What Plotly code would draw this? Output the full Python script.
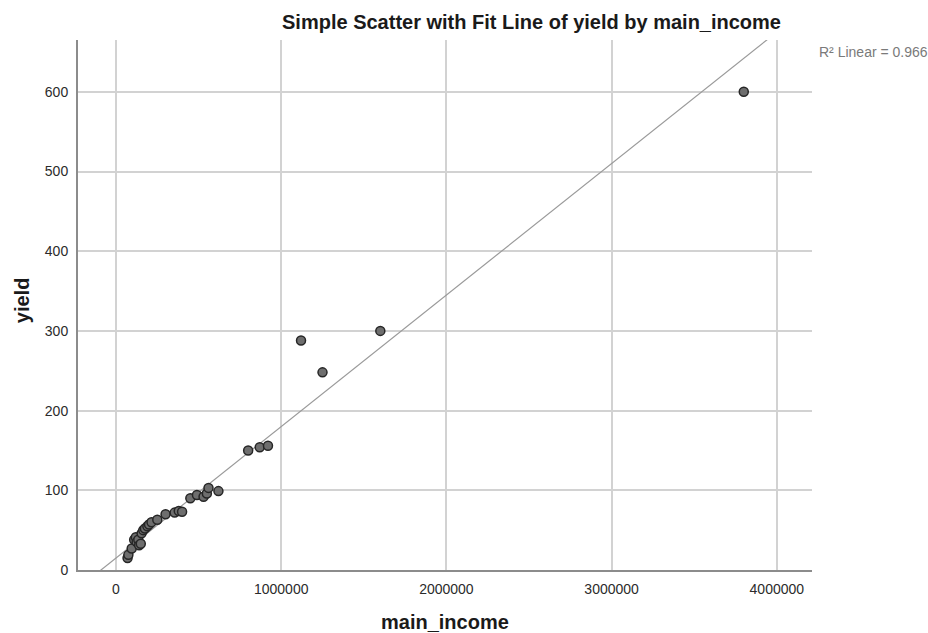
import plotly.graph_objects as go

# Data
main_income = [70000, 75000, 95000, 110000, 120000, 125000, 135000, 140000, 150000,
               155000, 165000, 175000, 190000, 200000, 215000, 250000, 300000,
               355000, 380000, 400000, 450000, 490000, 530000, 550000, 560000,
               620000, 800000, 870000, 920000, 1120000, 1250000, 1600000, 3800000]
yield_vals = [15, 19, 27, 38, 41, 35, 38, 31, 33,
              46, 50, 52, 55, 57, 60, 63, 70,
              72, 74, 73, 90, 94, 92, 96, 103,
              99, 150, 154, 156, 288, 248, 300, 600]

# Linear fit line (yield = intercept + slope * income)
fit_slope = 0.000165
fit_intercept = 15.0

x_ticks = [0, 1000000, 2000000, 3000000, 4000000]
y_ticks = [0, 100, 200, 300, 400, 500, 600]
x_range = [-230000, 4213000]
y_range = [0, 665]

title_text = "Simple Scatter with Fit Line of yield by main_income"
r2_text = "R² Linear = 0.966"

fit_x = list(x_range)
fit_y = [fit_intercept + fit_slope * v for v in fit_x]

FONT = "Liberation Sans, Arial, sans-serif"

fig = go.Figure()
fig.add_trace(go.Scatter(x=fit_x, y=fit_y, mode="lines",
                         line=dict(color="#9a9a9a", width=1.2),
                         hoverinfo="skip", showlegend=False))
fig.add_trace(go.Scatter(x=main_income, y=yield_vals, mode="markers",
                         marker=dict(size=9, color="#6e6e6e",
                                     line=dict(color="#262626", width=1.5)),
                         showlegend=False))

axis_common = dict(showgrid=True, gridcolor="#d2d2d2", gridwidth=1.5,
                   showline=True, linecolor="#8c8c8c", linewidth=2,
                   zeroline=False, ticks="", ticklabelstandoff=5,
                   tickfont=dict(family=FONT, size=14, color="#2b2b2b"))

fig.update_xaxes(range=x_range, tickvals=x_ticks, tickformat="d", **axis_common)
fig.update_yaxes(range=y_range, tickvals=y_ticks, **axis_common)

fig.update_layout(
    width=928, height=633,
    margin=dict(l=78, r=116, t=40, b=63),
    plot_bgcolor="white", paper_bgcolor="white",
    showlegend=False,
    annotations=[
        dict(text="<b>" + title_text + "</b>", xref="paper", yref="paper",
             x=0.618, y=1.034, xanchor="center", yanchor="middle",
             showarrow=False, font=dict(family=FONT, size=20, color="#1a1a1a")),
        dict(text=r2_text, xref="paper", yref="paper",
             x=1.0065, y=0.977, xanchor="left", yanchor="middle",
             showarrow=False, font=dict(family=FONT, size=14, color="#7a7a7a")),
        dict(text="<b>yield</b>", xref="paper", yref="paper",
             x=-0.0763, y=0.509, xanchor="center", yanchor="middle",
             textangle=-90, showarrow=False,
             font=dict(family=FONT, size=20, color="#1a1a1a")),
        dict(text="<b>main_income</b>", xref="paper", yref="paper",
             x=0.5, y=-0.098, xanchor="center", yanchor="middle",
             showarrow=False, font=dict(family=FONT, size=20, color="#1a1a1a")),
    ],
)

fig.write_html("out.html")
